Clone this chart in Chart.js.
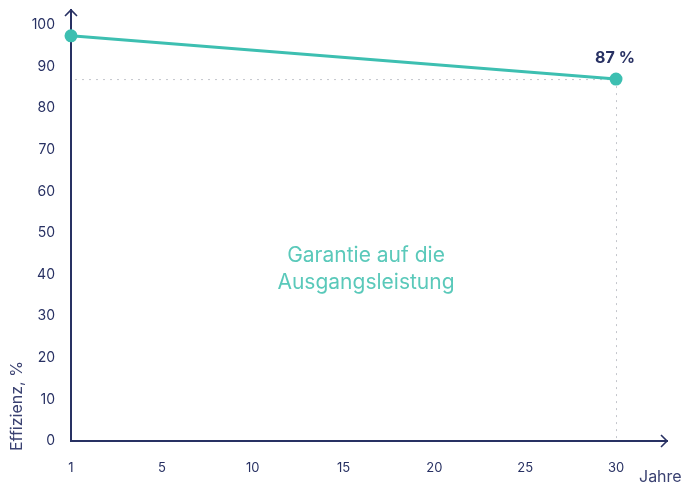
<!DOCTYPE html>
<html><head><meta charset="utf-8">
<script src="https://cdn.jsdelivr.net/npm/chart.js@4"></script>
<style>html,body{margin:0;padding:0;background:#fff}#w{width:682px;height:485px}</style>
</head><body><div id="w"><canvas id="c"></canvas></div>
<script>
const years = ['1','5','10','15','20','25','30'];
const efficiency = [97.4, null, null, null, null, null, 87];
const yTicks = [0,10,20,30,40,50,60,70,80,90,100];
const endLabel = '87 %';
const centerText = ['Garantie auf die', 'Ausgangsleistung'];
const yTitle = 'Effizienz, %';
const xTitle = 'Jahre';

const NAVY = '#283163';
const TEAL = '#3dbfb1';
const FONT = 'Inter, "Open Sans", sans-serif';

const deco = {
  id: 'deco',
  beforeDatasetsDraw(chart) {
    const {ctx, scales:{x, y}} = chart;
    const px = x.getPixelForValue(6), py = y.getPixelForValue(efficiency[6]);
    const x0 = x.getPixelForValue(0), y0 = y.getPixelForValue(0);
    ctx.save();
    ctx.strokeStyle = '#c4c6cc'; ctx.lineWidth = 1; ctx.setLineDash([2,5]);
    ctx.beginPath(); ctx.moveTo(x0+4, py+0.5); ctx.lineTo(px, py+0.5); ctx.stroke();
    ctx.beginPath(); ctx.moveTo(px+0.5, py); ctx.lineTo(px+0.5, y0); ctx.stroke();
    ctx.setLineDash([]);
    // axes
    ctx.strokeStyle = NAVY; ctx.lineWidth = 2;
    ctx.beginPath(); ctx.moveTo(x0, 9); ctx.lineTo(x0, y0); ctx.lineTo(668, y0); ctx.stroke();
    ctx.lineWidth = 1.6;
    ctx.beginPath(); ctx.moveTo(x0-6, 16); ctx.lineTo(x0, 10); ctx.lineTo(x0+6, 16); ctx.stroke();
    ctx.beginPath(); ctx.moveTo(661, y0-6); ctx.lineTo(667, y0); ctx.lineTo(661, y0+6); ctx.stroke();
    // texts
    ctx.fillStyle = '#5ac9ba'; ctx.font = '21px ' + FONT; ctx.textAlign = 'center'; ctx.textBaseline = 'middle';
    ctx.fillText(centerText[0], 366, 256);
    ctx.fillText(centerText[1], 366, 283);
    ctx.fillStyle = NAVY; ctx.font = 'bold 16px ' + FONT;
    ctx.fillText(endLabel, 615, 58);
    ctx.font = '16px ' + FONT; ctx.fillStyle = '#3b4272'; ctx.textAlign = 'left';
    ctx.fillText(xTitle, 639, 477);
    ctx.translate(17, 451); ctx.rotate(-Math.PI/2);
    ctx.fillText(yTitle, 0, 0);
    ctx.restore();
  }
};

new Chart(document.getElementById('c'), {
  type: 'line',
  data: { labels: years, datasets: [{ data: efficiency, borderColor: TEAL, backgroundColor: TEAL, borderWidth: 3, pointRadius: 5, pointHoverRadius: 5, spanGaps: true, tension: 0 }] },
  options: {
    responsive: true, maintainAspectRatio: false, animation: false,
    layout: { padding: { top: 25, right: 66, left: 0, bottom: 0 } },
    plugins: { legend: { display: false }, tooltip: { enabled: false } },
    scales: {
      x: { offset: false, grid: { display: false }, border: { display: false },
           ticks: { color: NAVY, font: { size: 13, family: FONT }, padding: 11, maxRotation: 0, autoSkip: false },
           afterFit(s) { s.height = 44; } },
      y: { min: 0, max: 100, grid: { display: false }, border: { display: false },
           afterBuildTicks(s) { s.ticks = yTicks.map(v => ({ value: v })); },
           ticks: { color: NAVY, font: { size: 14, family: FONT }, padding: 8 },
           afterFit(s) { s.width = 71; } }
    }
  },
  plugins: [deco]
});
</script></body></html>
